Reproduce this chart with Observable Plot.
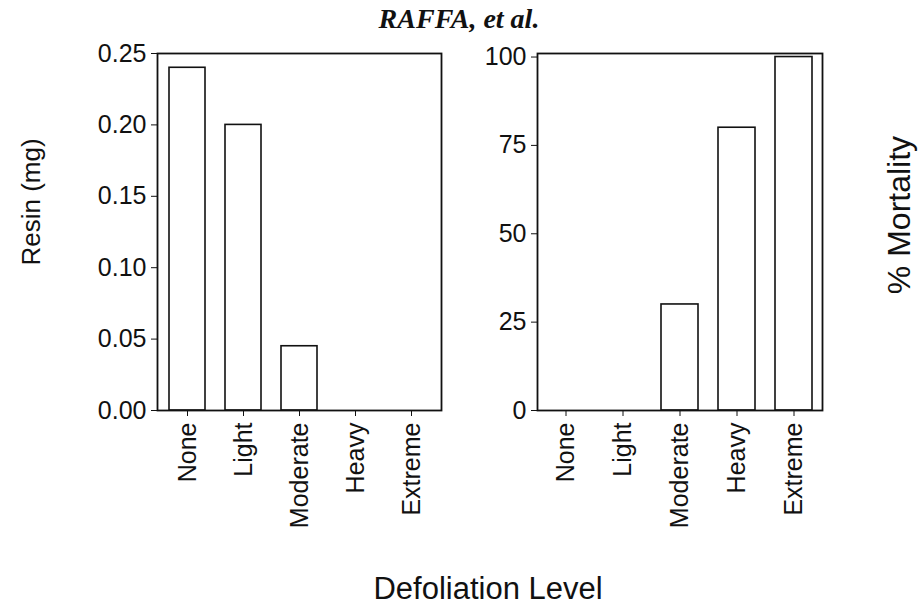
<!DOCTYPE html>
<html>
<head>
<meta charset="utf-8">
<script src="https://cdn.jsdelivr.net/npm/d3@7"></script>
<script src="https://cdn.jsdelivr.net/npm/@observablehq/plot@0.6"></script>
<style>
  html, body { margin: 0; padding: 0; background: #fff; }
  #wrap { position: relative; width: 918px; height: 606px; background: #fff; overflow: hidden; font-family: "Liberation Sans", Arial, sans-serif; color: #111; }
  .lbl { position: absolute; white-space: nowrap; line-height: 1; }
  #left, #right { position: absolute; top: 0; }
  #left { left: 0; }
  #right { left: 460px; }
</style>
</head>
<body>
<div id="wrap">
  <div id="left"></div>
  <div id="right"></div>
  <div class="lbl" id="title" style="left:459px; top:19px; transform:translate(-50%,-50%); font-family:'Liberation Serif','Times New Roman',serif; font-weight:bold; font-style:italic; font-size:28px;">RAFFA, et al.</div>
  <div class="lbl" style="left:31px; top:202px; transform:translate(-50%,-50%) rotate(-90deg); font-size:26px;">Resin (mg)</div>
  <div class="lbl" style="left:899px; top:215px; transform:translate(-50%,-50%) rotate(-90deg); font-size:32px;">% Mortality</div>
  <div class="lbl" style="left:488px; top:588px; transform:translate(-50%,-50%); font-size:31px;">Defoliation Level</div>
</div>
<script>
const levels = ["None", "Light", "Moderate", "Heavy", "Extreme"];
const resin = [0.24, 0.20, 0.045, 0, 0];
const mortality = [0, 0, 30, 80, 100];
const resinTicks = [0, 0.05, 0.10, 0.15, 0.20, 0.25];
const mortalityTicks = [0, 25, 50, 75, 100];

const ink = "#111";
const style = {fontFamily: "'Liberation Sans', Arial, sans-serif", fontSize: "25px", color: ink, background: "transparent", overflow: "visible"};

function panel({width, marginLeft, marginRight, values, yDomain, ticks, fmt}) {
  const data = levels.map((l, i) => ({level: l, value: values[i]}));
  return Plot.plot({
    width, height: 540,
    marginLeft, marginRight, marginTop: 53, marginBottom: 130,
    style,
    x: {domain: levels, paddingInner: 0.35, paddingOuter: 0.175, label: null, tickSize: 6, tickPadding: 6, tickRotate: -90},
    y: {domain: yDomain, ticks, tickFormat: fmt, label: null, tickSize: 6, tickPadding: 5},
    marks: [
      Plot.barY(data, {x: "level", y: "value", fill: "white", stroke: ink, strokeWidth: 1.6}),
      Plot.frame({stroke: ink, strokeWidth: 1.8})
    ]
  });
}

document.getElementById("left").appendChild(panel({
  width: 460, marginLeft: 157, marginRight: 19,
  values: resin, yDomain: [0, 0.25], ticks: resinTicks, fmt: d3.format(".2f")
}));
document.getElementById("right").appendChild(panel({
  width: 458, marginLeft: 77, marginRight: 96,
  values: mortality, yDomain: [0, 101], ticks: mortalityTicks, fmt: d3.format("d")
}));
</script>
</body>
</html>
